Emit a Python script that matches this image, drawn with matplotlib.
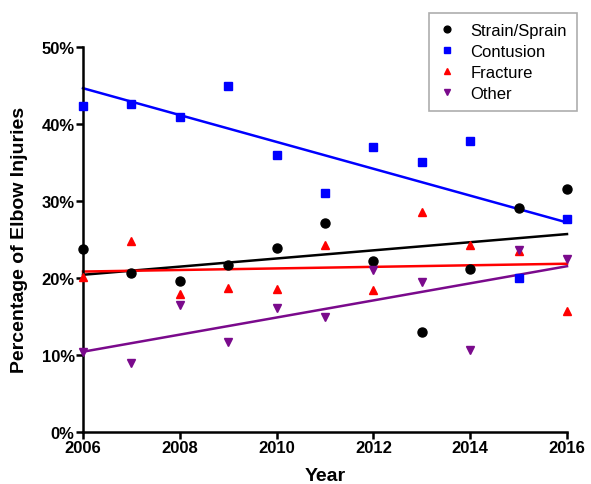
import numpy as np
import matplotlib
matplotlib.use('Agg')
import matplotlib.pyplot as plt
from matplotlib.ticker import PercentFormatter

plt.rcParams['font.family'] = ['Liberation Sans', 'DejaVu Sans']

years = np.arange(2006, 2017)

# percentages of elbow injuries per year, by type
strain = [23.7, 20.6, 19.6, 21.7, 23.9, 27.1, 22.2, 12.9, 21.1, 29.1, 31.5]
contusion = [42.3, 42.6, 40.9, 44.9, 36.0, 31.0, 37.0, 35.0, 37.8, 20.0, 27.6]
fracture = [20.1, 24.8, 17.9, 18.7, 18.5, 24.2, 18.4, 28.5, 24.2, 23.5, 15.7]
other = [10.3, 8.9, 16.5, 11.6, 16.1, 14.9, 21.0, 19.5, 10.6, 23.6, 22.4]

series = [
    ('Strain/Sprain', strain, 'black', 'o', 6.5),
    ('Contusion', contusion, '#0000ff', 's', 6),
    ('Fracture', fracture, '#ff0000', '^', 6),
    ('Other', other, '#7a0a8c', 'v', 6),
]

fig = plt.figure(figsize=(5.91, 4.85), dpi=100)
ax = fig.add_axes([0.1404, 0.108, 0.819, 0.793])

for name, vals, col, mk, ms in series:
    ax.plot(years, vals, ls='none', marker=mk, color=col, ms=ms,
            label=name, clip_on=False, zorder=3)
    # linear trend line
    k, b = np.polyfit(years, vals, 1)
    ax.plot([years[0], years[-1]], [k * years[0] + b, k * years[-1] + b],
            color=col, lw=1.8, clip_on=False, zorder=2)

ax.set_xlim(2006, 2016)
ax.set_ylim(0, 50)
ax.set_xticks(range(2006, 2017, 2))
ax.set_yticks(range(0, 51, 10))
ax.yaxis.set_major_formatter(PercentFormatter(decimals=0))

for s in ['top', 'right']:
    ax.spines[s].set_visible(False)
for s in ['left', 'bottom']:
    ax.spines[s].set_linewidth(1.8)
ax.tick_params(width=1.8, length=5, labelsize=12, pad=1)
for lbl in ax.get_xticklabels() + ax.get_yticklabels():
    lbl.set_fontweight('bold')

ax.set_xlabel('Year', fontsize=14, fontweight='bold', labelpad=9)
ax.set_ylabel('Percentage of Elbow Injuries', fontsize=14, fontweight='bold', labelpad=10)

leg = ax.legend(loc='upper right', bbox_to_anchor=(1.038, 1.11), fontsize=12,
                frameon=True, fancybox=False, edgecolor='#999999',
                handlelength=1.0, handletextpad=0.9, labelspacing=0.36,
                borderpad=0.6, markerscale=0.75)
leg.get_frame().set_linewidth(1.2)

plt.savefig('out.png', dpi=100)
